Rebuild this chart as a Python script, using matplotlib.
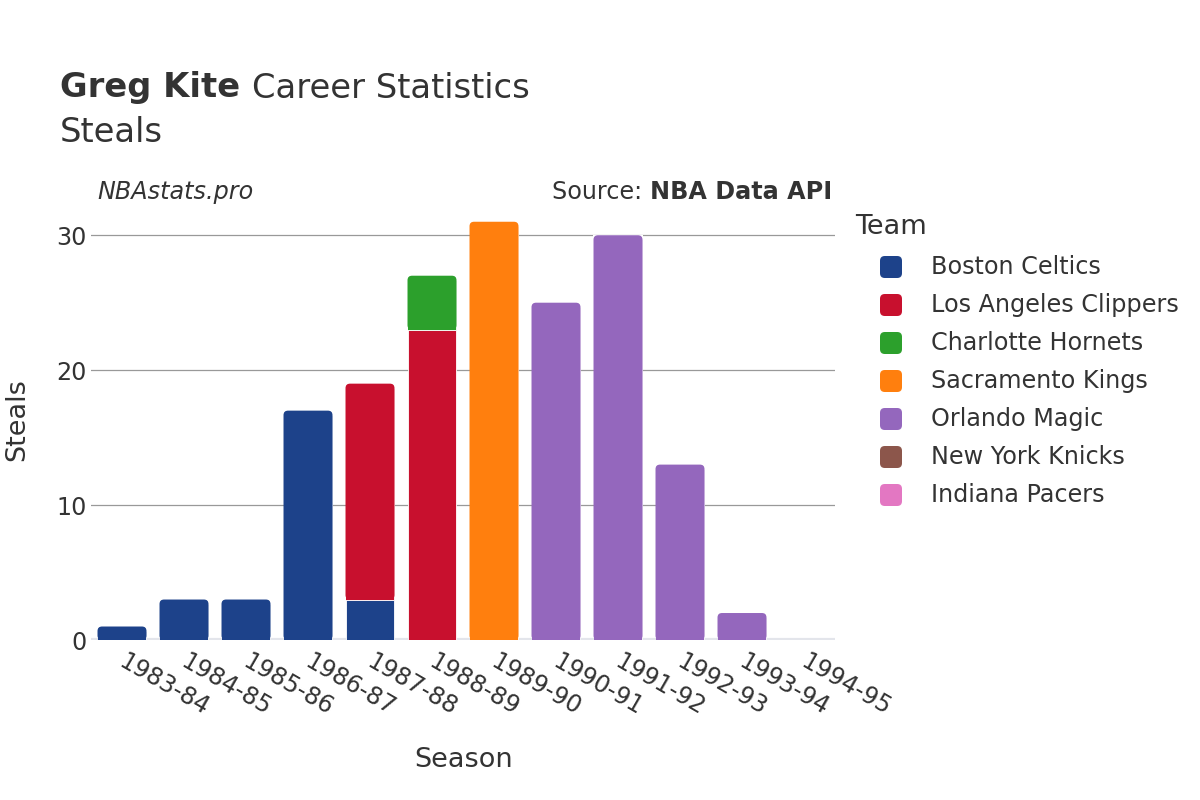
import numpy as np
import matplotlib.pyplot as plt
import matplotlib.transforms as mtransforms
from matplotlib.patches import FancyBboxPatch, Rectangle

plt.rcParams['font.family'] = ['DejaVu Sans']

# --- data ---
seasons = ['1983-84', '1984-85', '1985-86', '1986-87', '1987-88', '1988-89',
           '1989-90', '1990-91', '1991-92', '1992-93', '1993-94', '1994-95']
teams = ['Boston Celtics', 'Los Angeles Clippers', 'Charlotte Hornets',
         'Sacramento Kings', 'Orlando Magic', 'New York Knicks', 'Indiana Pacers']
team_colors = ['#1d428a', '#c8102e', '#2ca02c', '#ff7f0e', '#9467bd', '#8c564b', '#e377c2']

boston = [1, 3, 3, 17, 3, 0, 0, 0, 0, 0, 0, 0]
clippers = [0, 0, 0, 0, 16, 23, 0, 0, 0, 0, 0, 0]
hornets = [0, 0, 0, 0, 0, 4, 0, 0, 0, 0, 0, 0]
kings = [0, 0, 0, 0, 0, 0, 31, 0, 0, 0, 0, 0]
magic = [0, 0, 0, 0, 0, 0, 0, 25, 30, 13, 2, 0]
knicks = [0, 0, 0, 0, 0, 0, 0, 0, 0, 0, 0, 0]
pacers = [0, 0, 0, 0, 0, 0, 0, 0, 0, 0, 0, 0]
series = [boston, clippers, hornets, kings, magic, knicks, pacers]

TXT = '#333333'
W, H = 1200, 800

fig = plt.figure(figsize=(12, 8), dpi=100)
ax = fig.add_axes([91 / W, 1 - 640 / H, 744 / W, 425 / H])

ymax = 31.5
bar_w = 0.79
x = np.arange(len(seasons))
bottom = np.zeros(len(seasons))
top_seg = {}
for vals, color in zip(series, team_colors):
    vals = np.array(vals, dtype=float)
    ax.bar(x, vals, width=bar_w, bottom=bottom, color=color,
           edgecolor='white', linewidth=0.6, zorder=3)
    for i, v in enumerate(vals):
        if v > 0:
            top_seg[i] = (bottom[i], v, color)
    bottom += vals

# rounded top corners on the top segment of every stack
px_x = 744 / len(seasons)   # pixels per x unit
px_y = 425 / ymax           # pixels per y unit
r_px = 4.5
for i, (b, h, color) in top_seg.items():
    rx = r_px / px_x
    # cover the square top with background, then draw the rounded one
    ax.add_patch(Rectangle((i - bar_w / 2 - 0.01, b + h - r_px / px_y - 0.05), bar_w + 0.02,
                           r_px / px_y + 0.1, facecolor='white', edgecolor='none', zorder=3.5))
    ax.add_patch(FancyBboxPatch((i - bar_w / 2, b), bar_w, h,
                                boxstyle=f'round,pad=0,rounding_size={rx}',
                                mutation_aspect=px_x / px_y,
                                facecolor=color, edgecolor='none', zorder=4))
    low = min(h / 2, r_px / px_y + 0.1)
    ax.add_patch(Rectangle((i - bar_w / 2, b), bar_w, low,
                           facecolor=color, edgecolor='none', zorder=4.5))

ax.set_xlim(-0.5, len(seasons) - 0.5)
ax.set_ylim(0, ymax)
ax.set_yticks([0, 10, 20, 30])
ax.yaxis.grid(True, color='#999999', linewidth=0.9, zorder=0)
ax.axhline(0, color='#e3e5eb', linewidth=3, zorder=2)
for s in ax.spines.values():
    s.set_visible(False)
ax.tick_params(axis='both', length=0, labelsize=17.2, colors=TXT)
ax.tick_params(axis='y', pad=3)
ax.tick_params(axis='x', pad=7)
ax.set_xticks(x)
ax.set_xticklabels(seasons, rotation=-30, ha='left', va='top', rotation_mode='anchor')
shift = mtransforms.ScaledTranslation(5 / 100, 0, fig.dpi_scale_trans)
for lab in ax.get_xticklabels():
    lab.set_transform(lab.get_transform() + shift)

fig.text(464 / W, 1 - 760 / H, 'Season', fontsize=19.5, color=TXT, ha='center', va='center')
fig.text(17 / W, 1 - 420 / H, 'Steals', rotation=90, fontsize=19.5, color=TXT,
         ha='center', va='center')

# titles
fig.canvas.draw()
renderer = fig.canvas.get_renderer()
t1 = fig.text(60 / W, 1 - 88 / H, 'Greg Kite ', fontsize=24.3, fontweight='bold',
              color=TXT, va='center')
t1_w = t1.get_window_extent(renderer).width
fig.text((60 + t1_w) / W, 1 - 88 / H, 'Career Statistics', fontsize=24.3, color=TXT, va='center')
fig.text(60 / W, 1 - 132 / H, 'Steals', fontsize=24.3, color=TXT, va='center')

fig.text(97 / W, 1 - 192 / H, 'NBAstats.pro', fontsize=17.2, style='italic', color=TXT, va='center')
s2 = fig.text(832 / W, 1 - 192 / H, 'NBA Data API', fontsize=17.2, fontweight='bold',
              color=TXT, va='center', ha='right')
s2_w = s2.get_window_extent(renderer).width
fig.text((832 - s2_w) / W, 1 - 192 / H, 'Source: ', fontsize=17.2, color=TXT,
         va='center', ha='right')

# legend
fig.text(855 / W, 1 - 227 / H, 'Team', fontsize=19.5, color=TXT, va='center')
for i, (team, color) in enumerate(zip(teams, team_colors)):
    yy = 267 + i * 38
    fig.patches.append(FancyBboxPatch((880 / W, 1 - (yy + 11) / H), 22 / W, 22 / H,
                                      boxstyle='round,pad=0,rounding_size=0.004',
                                      mutation_aspect=W / H,
                                      transform=fig.transFigure, facecolor=color,
                                      edgecolor='none', figure=fig))
    fig.text(931 / W, 1 - yy / H, team, fontsize=17.2, color=TXT, va='center')

fig.savefig('out.png', dpi=100)
